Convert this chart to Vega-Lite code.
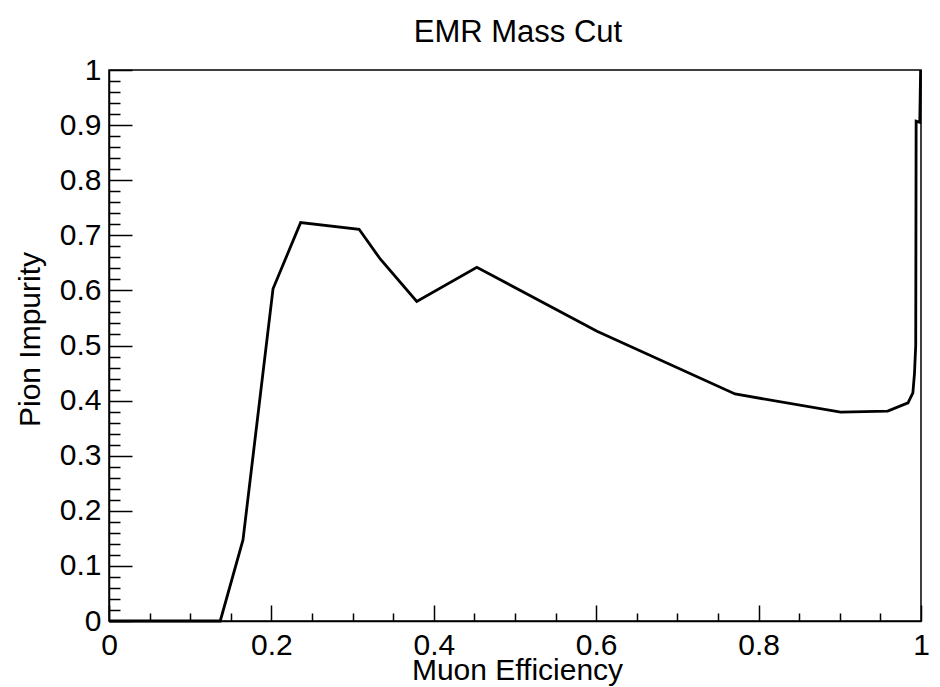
{
  "$schema": "https://vega.github.io/schema/vega-lite/v6.json",
  "width": 812,
  "height": 551,
  "autosize": {"type": "none"},
  "padding": {"left": 109, "top": 70, "right": 19, "bottom": 66},
  "background": "white",
  "title": {"text": "EMR Mass Cut", "anchor": "middle", "frame": "group", "font": "Liberation Sans", "fontSize": 31, "fontWeight": "normal", "color": "black", "baseline": "alphabetic", "offset": -18, "dx": 3},
  "config": {
    "view": {"stroke": "black", "strokeWidth": 1.5},
    "axis": {"labelFont": "Liberation Sans", "titleFont": "Liberation Sans", "labelColor": "black", "titleColor": "black", "domainColor": "black", "tickColor": "black", "grid": false, "domainWidth": 1.5, "tickWidth": 1.5, "titleFontWeight": "normal", "labelFlush": false, "labelOverlap": false}
  },
  "data": {"values": [
    {"i": 0, "eff": 0.0, "imp": 0.0},
    {"i": 1, "eff": 0.137, "imp": 0.0},
    {"i": 2, "eff": 0.165, "imp": 0.147},
    {"i": 3, "eff": 0.202, "imp": 0.603},
    {"i": 4, "eff": 0.236, "imp": 0.723},
    {"i": 5, "eff": 0.308, "imp": 0.711},
    {"i": 6, "eff": 0.334, "imp": 0.657},
    {"i": 7, "eff": 0.379, "imp": 0.58},
    {"i": 8, "eff": 0.453, "imp": 0.642},
    {"i": 9, "eff": 0.601, "imp": 0.526},
    {"i": 10, "eff": 0.771, "imp": 0.412},
    {"i": 11, "eff": 0.901, "imp": 0.379},
    {"i": 12, "eff": 0.959, "imp": 0.381},
    {"i": 13, "eff": 0.984, "imp": 0.396},
    {"i": 14, "eff": 0.99, "imp": 0.414},
    {"i": 15, "eff": 0.992, "imp": 0.45},
    {"i": 16, "eff": 0.9935, "imp": 0.5},
    {"i": 17, "eff": 0.994, "imp": 0.907},
    {"i": 18, "eff": 0.9985, "imp": 0.905},
    {"i": 19, "eff": 0.9995, "imp": 1.0}
  ]},
  "layer": [
    {
      "mark": {"type": "point", "opacity": 0},
      "encoding": {
        "x": {"field": "eff", "type": "quantitative", "scale": {"domain": [0, 1], "nice": false, "zero": false},
          "axis": {"orient": "bottom", "values": [0.05, 0.1, 0.15, 0.25, 0.3, 0.35, 0.45, 0.5, 0.55, 0.65, 0.7, 0.75, 0.85, 0.9, 0.95], "tickSize": -8, "labels": false, "domain": false, "title": null}},
        "y": {"field": "imp", "type": "quantitative", "scale": {"domain": [0, 1], "nice": false, "zero": false},
          "axis": {"orient": "left", "values": [0.02, 0.04, 0.06, 0.08, 0.12, 0.14, 0.16, 0.18, 0.22, 0.24, 0.26, 0.28, 0.32, 0.34, 0.36, 0.38, 0.42, 0.44, 0.46, 0.48, 0.52, 0.54, 0.56, 0.58, 0.62, 0.64, 0.66, 0.68, 0.72, 0.74, 0.76, 0.78, 0.82, 0.84, 0.86, 0.88, 0.92, 0.94, 0.96, 0.98], "tickSize": -11, "labels": false, "domain": false, "title": null}}
      }
    },
    {
      "mark": {"type": "line", "color": "black", "strokeWidth": 2.8, "strokeJoin": "miter"},
      "encoding": {
        "x": {"field": "eff", "type": "quantitative", "scale": {"domain": [0, 1], "nice": false, "zero": false},
          "axis": {"orient": "bottom", "values": [0, 0.2, 0.4, 0.6, 0.8, 1], "format": "~g", "tickSize": -16, "labelFontSize": 30, "labelPadding": 49, "labelBaseline": "alphabetic", "labelAlign": "center",
            "title": "Muon Efficiency", "titleFontSize": 30, "titleX": 408, "titleY": 58, "titleAlign": "center", "titleBaseline": "alphabetic", "titleAnchor": null}},
        "y": {"field": "imp", "type": "quantitative", "scale": {"domain": [0, 1], "nice": false, "zero": false},
          "axis": {"orient": "left", "values": [0, 0.1, 0.2, 0.3, 0.4, 0.5, 0.6, 0.7, 0.8, 0.9, 1], "format": "~g", "tickSize": -23, "labelFontSize": 30, "labelPadding": 31, "labelBaseline": "middle", "labelAlign": "right",
            "title": "Pion Impurity", "titleFontSize": 30, "titleX": -70, "titleY": 269, "titleAngle": -90, "titleAlign": "center", "titleBaseline": "alphabetic"}},
        "order": {"field": "i", "type": "quantitative"}
      }
    }
  ],
  "resolve": {"axis": {"x": "independent", "y": "independent"}}
}
